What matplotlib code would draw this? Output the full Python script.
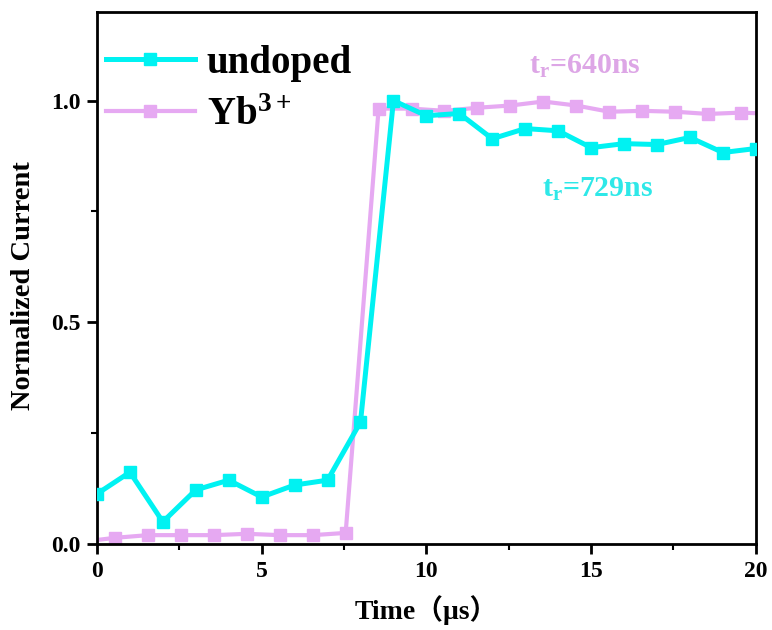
import numpy as np
import matplotlib
matplotlib.use('Agg')
import matplotlib.pyplot as plt
from matplotlib.ticker import MultipleLocator

plt.rcParams['font.family'] = ['Liberation Serif', 'Noto Sans CJK SC']
plt.rcParams['font.weight'] = 'bold'
plt.rcParams['mathtext.fontset'] = 'custom'
plt.rcParams['mathtext.rm'] = 'Liberation Serif:bold'
plt.rcParams['mathtext.it'] = 'Liberation Serif:bold'
plt.rcParams['mathtext.bf'] = 'Liberation Serif:bold'

# undoped
t_undoped = np.arange(0, 21)
i_undoped = [0.113, 0.162, 0.050, 0.122, 0.144, 0.106, 0.133, 0.144, 0.275, 1.000,
             0.966, 0.971, 0.914, 0.937, 0.932, 0.894, 0.903, 0.901, 0.917, 0.883, 0.892]

# Yb3+
t_yb = np.arange(-0.45, 21.0, 1.0)
i_yb = [0.005, 0.014, 0.020, 0.020, 0.020, 0.023, 0.020, 0.020, 0.025, 0.982,
        0.982, 0.977, 0.984, 0.989, 0.998, 0.989, 0.975, 0.977, 0.975, 0.970, 0.973, 0.970]

COL_UNDOPED = '#00F2F2'
COL_YB = '#E6A9F2'

fig = plt.figure(figsize=(7.72, 6.3), dpi=100)
ax = fig.add_axes([0.1256, 0.1365, 0.979 - 0.1256, 0.981 - 0.1365])

ax.plot(t_undoped, i_undoped, color=COL_UNDOPED, lw=3.6, marker='s', ms=8.5,
        label='undoped', zorder=3)
ax.plot(t_yb, i_yb, color=COL_YB, lw=3.0, marker='s', ms=8.5,
        label='Yb$^{3+}$', zorder=2)

ax.text(14.8, 1.077, r'$\mathregular{t_r}$=640ns', color='#DDA6E6', fontsize=21.5,
        fontweight='bold', ha='center', va='center', zorder=5)
ax.text(15.2, 0.80, r'$\mathregular{t_r}$=729ns', color='#2EE8E8', fontsize=21.5,
        fontweight='bold', ha='center', va='center', zorder=5)

ax.set_xlim(0, 20)
ax.set_ylim(0, 1.2)
ax.xaxis.set_major_locator(MultipleLocator(5))
ax.xaxis.set_minor_locator(MultipleLocator(2.5))
ax.set_yticks([0.0, 0.5, 1.0])
ax.set_yticks([0.25, 0.75], minor=True)

for sp in ax.spines.values():
    sp.set_linewidth(2)
ax.tick_params(which='major', direction='out', length=7, width=2,
               labelsize=17, pad=5)
ax.tick_params(which='minor', direction='out', length=4, width=1.5)

ax.set_xlabel('Time（μs）', fontsize=20, fontweight='bold', labelpad=10)
ax.set_ylabel('Normalized Current', fontsize=20.5, fontweight='bold')
ax.yaxis.set_label_coords(-0.093, 0.485)

leg = ax.legend(loc='upper left', bbox_to_anchor=(-0.028, 0.99), frameon=False,
                fontsize=28, handlelength=2.3, handletextpad=0.3,
                labelspacing=0.4, borderaxespad=0.3)

fig.savefig('out.png', dpi=100)
